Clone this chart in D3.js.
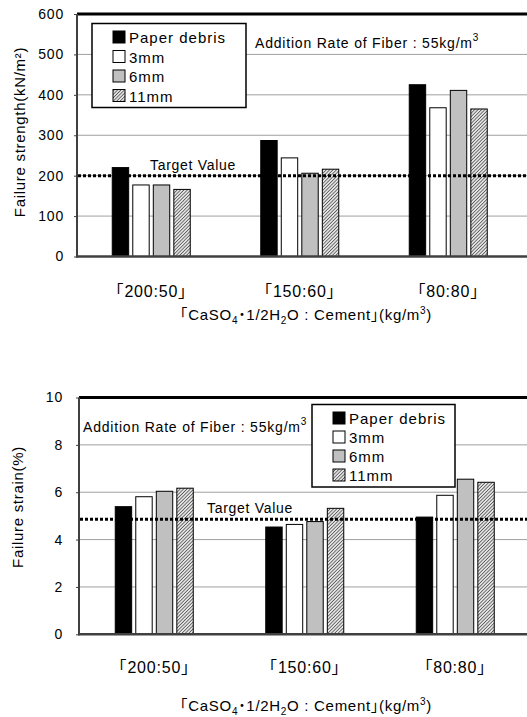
<!DOCTYPE html>
<html>
<head>
<meta charset="utf-8">
<script src="https://cdn.jsdelivr.net/npm/d3@7"></script>
<style>
  body { margin: 0; background: #fff; }
  text { font-family: "Liberation Sans", Arial, "Noto Sans CJK JP", sans-serif; fill: #000; }
</style>
</head>
<body>
<div class="chart"></div>
<script>
// categories and series
const categories = ['「200:50」', '「150:60」', '「80:80」']
const seriesNames = ['Paper debris', '3mm', '6mm', '11mm']

// failure strength (kN/m2)
const strengthPaper = [220, 287, 425]
const strength3mm = [177, 244, 368]
const strength6mm = [177, 206, 411]
const strength11mm = [166, 216, 365]
const strengthTicks = [0, 100, 200, 300, 400, 500, 600]
const strengthTarget = 200

// failure strain (%)
const strainPaper = [5.39, 4.53, 4.95]
const strain3mm = [5.81, 4.64, 5.87]
const strain6mm = [6.04, 4.76, 6.55]
const strain11mm = [6.17, 5.32, 6.42]
const strainTicks = [0, 2, 4, 6, 8, 10]
const strainTarget = 4.86

const fills = ['#000', '#fff', '#c0c0c0', 'url(#hatch)']

const svg = d3.select('.chart').append('svg')
  .attr('width', 527)
  .attr('height', 717)

const defs = svg.append('defs')
const pat = defs.append('pattern')
  .attr('id', 'hatch')
  .attr('patternUnits', 'userSpaceOnUse')
  .attr('width', 2.4).attr('height', 2.4)
  .attr('patternTransform', 'rotate(45)')
pat.append('rect').attr('width', 2.4).attr('height', 2.4).attr('fill', '#e4e4e4')
pat.append('line').attr('x1', 0).attr('y1', 0).attr('x2', 0).attr('y2', 2.4)
  .attr('stroke', '#2a2a2a').attr('stroke-width', 1.2)

function xTitle(g, x, y) {
  const t = g.append('text')
    .attr('x', x).attr('y', y)
    .attr('text-anchor', 'middle')
    .attr('font-size', 15)
    .attr('letter-spacing', 0.7)
  t.append('tspan').text('｢CaSO')
  t.append('tspan').attr('font-size', 10).attr('dy', 4).text('4')
  t.append('tspan').attr('dy', -4).attr('font-weight', 'bold').text('･')
  t.append('tspan').text('1/2H')
  t.append('tspan').attr('font-size', 10).attr('dy', 4).text('2')
  t.append('tspan').attr('dy', -4).text('O : Cement｣(kg/m')
  t.append('tspan').attr('font-size', 10).attr('dy', -6).text('3')
  t.append('tspan').attr('dy', 6).text(')')
}

function note(g, x, y) {
  const t = g.append('text')
    .attr('x', x).attr('y', y)
    .attr('font-size', 14)
    .attr('letter-spacing', 0.8)
  t.append('tspan').text('Addition Rate of Fiber : 55kg/m')
  t.append('tspan').attr('font-size', 10).attr('dy', -7).text('3')
}

function drawPanel(p) {
  const g = svg.append('g')
  const y = d3.scaleLinear().domain(p.domain).range([p.bottom, p.top])
  const x = d3.scaleBand().domain(categories)
    .range([p.left, p.left + 3 * p.band])
  const xs = d3.scaleBand().domain(seriesNames)
    .range([0, 78]).paddingInner(0.2)

  // gridlines
  g.selectAll('.grid')
    .data(p.ticks.slice(1, -1))
    .enter()
    .append('line')
    .attr('x1', p.left).attr('x2', 530)
    .attr('y1', d => y(d)).attr('y2', d => y(d))
    .attr('stroke', '#a0a0a0').attr('stroke-width', 1)

  // y axis labels + small ticks
  const yAxis = d3.axisLeft(y).tickValues(p.ticks).tickSize(3).tickPadding(p.left - p.labelX - 3)
  const ya = g.append('g')
    .attr('transform', `translate(${p.left},0)`)
    .call(yAxis)
  ya.select('.domain').remove()
  ya.selectAll('line').attr('stroke', '#404040')
  ya.selectAll('text')
    .attr('font-size', 14)
    .attr('letter-spacing', 0.8)
    .attr('font-family', '"Liberation Sans", Arial, sans-serif')
    .attr('fill', '#000')

  // bars
  p.values.forEach((vals, si) => {
    g.selectAll('.bar' + si)
      .data(vals)
      .enter()
      .append('rect')
      .attr('x', (d, i) => x(categories[i]) + x.bandwidth() / 2 - 39 + xs(seriesNames[si]))
      .attr('y', d => y(d))
      .attr('width', xs.bandwidth())
      .attr('height', d => p.bottom - y(d))
      .attr('fill', fills[si])
      .attr('stroke', '#000')
      .attr('stroke-width', 1)
  })

  // target line
  g.append('line')
    .attr('x1', p.left + 1).attr('x2', 530)
    .attr('y1', y(p.target)).attr('y2', y(p.target))
    .attr('stroke', '#000').attr('stroke-width', 3)
    .attr('stroke-dasharray', '3,2')
  g.append('text')
    .attr('x', p.targetX).attr('y', y(p.target) - 6)
    .attr('font-size', 14).attr('letter-spacing', 0.7)
    .text('Target Value')

  // frame
  g.append('line').attr('x1', p.left).attr('x2', 530)
    .attr('y1', p.top).attr('y2', p.top)
    .attr('stroke', '#000').attr('stroke-width', 3)
  g.append('line').attr('x1', p.left).attr('x2', p.left)
    .attr('y1', p.top).attr('y2', p.bottom + 1)
    .attr('stroke', '#404040').attr('stroke-width', 2)
  g.append('line').attr('x1', p.left - 1).attr('x2', 530)
    .attr('y1', p.bottom).attr('y2', p.bottom)
    .attr('stroke', '#404040').attr('stroke-width', 2.5)

  // category labels
  g.selectAll('.cat')
    .data(categories)
    .enter()
    .append('text')
    .attr('x', d => x(d) + x.bandwidth() / 2)
    .attr('y', p.catY)
    .attr('text-anchor', 'middle')
    .attr('font-size', 16)
    .attr('letter-spacing', 0.8)
    .text(d => d)

  xTitle(g, 306, p.xTitleY)
  note(g, p.noteX, p.noteY)

  // y title
  g.append('text')
    .attr('transform', `translate(${p.yTitleX},${p.yTitleY}) rotate(-90)`)
    .attr('text-anchor', 'middle')
    .attr('font-size', 15)
    .attr('letter-spacing', 0.7)
    .text(p.yTitle)

  // legend
  const lg = g.append('g')
  lg.append('rect')
    .attr('x', p.legend[0]).attr('y', p.legend[1])
    .attr('width', p.legend[2]).attr('height', p.legend[3])
    .attr('fill', '#fff').attr('stroke', '#000').attr('stroke-width', 1.5)
  lg.selectAll('.sw')
    .data(seriesNames)
    .enter()
    .append('rect')
    .attr('x', p.legend[0] + 21)
    .attr('y', (d, i) => p.legend[1] + 7.5 + i * p.legendStep)
    .attr('width', 12).attr('height', 12)
    .attr('fill', (d, i) => fills[i])
    .attr('stroke', '#000').attr('stroke-width', 1)
  lg.selectAll('.lt')
    .data(seriesNames)
    .enter()
    .append('text')
    .attr('x', p.legend[0] + 37)
    .attr('y', (d, i) => p.legend[1] + 19.5 + i * p.legendStep)
    .attr('font-size', 15)
    .attr('letter-spacing', 1)
    .text(d => d)
}

drawPanel({
  domain: [0, 600], ticks: strengthTicks,
  top: 14, bottom: 256.5, left: 77, band: 148.5, labelX: 64,
  values: [strengthPaper, strength3mm, strength6mm, strength11mm],
  target: strengthTarget, targetX: 150,
  catY: 297, xTitleY: 320,
  noteX: 255, noteY: 47.5,
  yTitleX: 25, yTitleY: 132,
  yTitle: 'Failure strength(kN/m²)',
  legend: [92, 23.5, 154, 84], legendStep: 19.5
})

drawPanel({
  domain: [0, 10], ticks: strainTicks,
  top: 397.5, bottom: 634.3, left: 79, band: 150.5, labelX: 63,
  values: [strainPaper, strain3mm, strain6mm, strain11mm],
  target: strainTarget, targetX: 207,
  catY: 673, xTitleY: 711,
  noteX: 83, noteY: 431.5,
  yTitleX: 23, yTitleY: 507,
  yTitle: 'Failure strain(%)',
  legend: [312, 404.5, 143, 82.5], legendStep: 19
})
</script>
</body>
</html>
